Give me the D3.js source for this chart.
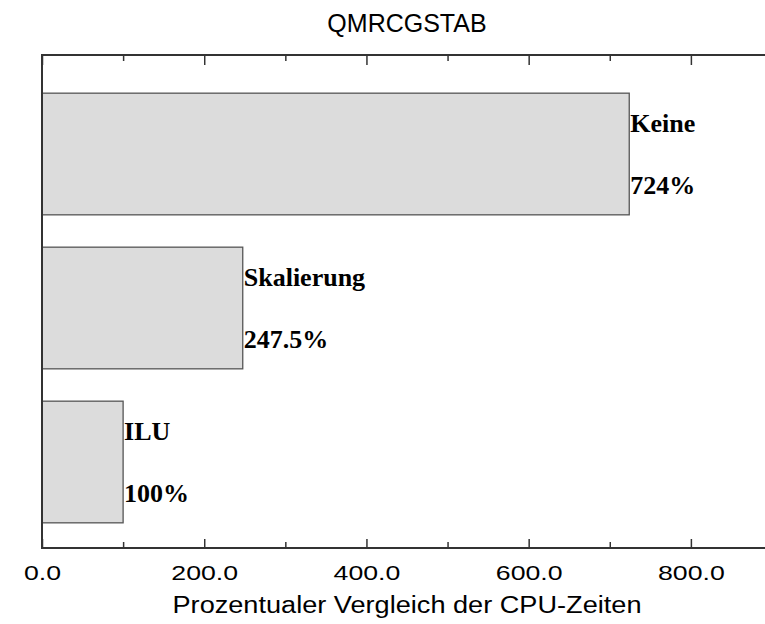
<!DOCTYPE html>
<html>
<head>
<meta charset="utf-8">
<script src="https://cdn.jsdelivr.net/npm/d3@7"></script>
<style>
  html, body { margin: 0; padding: 0; background: #fff; }
  svg { display: block; }
</style>
</head>
<body>
<div id="chart"></div>
<script>
// Preconditioner variants and their CPU time relative to ILU (= 100 %)
const categories = ["Keine", "Skalierung", "ILU"];
const values = [724, 247.5, 100];
const valueLabels = ["724%", "247.5%", "100%"];
const majorTicks = [0, 200, 400, 600, 800];
const minorTicks = [100, 300, 500, 700];

const chartTitle = "QMRCGSTAB";
const xTitle = "Prozentualer Vergleich der CPU-Zeiten";

const W = 765, H = 624;
const plot = { left: 42, right: 772, top: 55, bottom: 548 };

const svg = d3.select("#chart").append("svg")
  .attr("width", W).attr("height", H);

const x = d3.scaleLinear().domain([0, 900]).range([plot.left, plot.right]);
const y = d3.scaleBand().domain(categories).range([77, 539])
  .paddingInner(0.21).paddingOuter(0.105);

const sans = "'Liberation Sans', Arial, Helvetica, sans-serif";
const serif = "'Liberation Serif', 'Times New Roman', Times, serif";
const frameColor = "#333";

// Bars
svg.append("g").selectAll("rect")
  .data(categories)
  .join("rect")
  .attr("x", x(0))
  .attr("y", d => y(d))
  .attr("width", (d, i) => x(values[i]) - x(0))
  .attr("height", y.bandwidth())
  .attr("fill", "#dcdcdc")
  .attr("stroke", "#555")
  .attr("stroke-width", 1.3);

// Bar annotations: name and percentage to the right of each bar end
const ann = svg.append("g")
  .attr("font-family", serif)
  .attr("font-weight", "bold")
  .attr("font-size", 26)
  .attr("fill", "#000");

ann.selectAll("text.name")
  .data(categories)
  .join("text")
  .attr("class", "name")
  .attr("x", (d, i) => x(values[i]) + 1)
  .attr("y", d => y(d) + 39)
  .text(d => d);

ann.selectAll("text.val")
  .data(categories)
  .join("text")
  .attr("class", "val")
  .attr("x", (d, i) => x(values[i]) + 1)
  .attr("y", d => y(d) + 101)
  .text((d, i) => valueLabels[i]);

// Bottom axis: major ticks with labels, minor ticks without
const bottomMajor = d3.axisBottom(x).tickValues(majorTicks)
  .tickSize(-9).tickFormat(d3.format(".1f"));
const gB = svg.append("g").attr("transform", `translate(0,${plot.bottom})`).call(bottomMajor);
gB.select(".domain").remove();
gB.selectAll(".tick line").attr("stroke", frameColor).attr("stroke-width", 1.5);
gB.selectAll(".tick text")
  .attr("y", 32).attr("dy", null)
  .attr("font-family", sans).attr("font-size", 21).attr("fill", "#000")
  .attr("transform", "scale(1.27,1)");

const bottomMinor = d3.axisBottom(x).tickValues(minorTicks).tickSize(-6).tickFormat("");
const gBm = svg.append("g").attr("transform", `translate(0,${plot.bottom})`).call(bottomMinor);
gBm.select(".domain").remove();
gBm.selectAll(".tick line").attr("stroke", frameColor).attr("stroke-width", 1.5);

// Top axis: ticks pointing down, no labels
const topMajor = d3.axisTop(x).tickValues(majorTicks).tickSize(-10).tickFormat("");
const gT = svg.append("g").attr("transform", `translate(0,${plot.top})`).call(topMajor);
gT.select(".domain").remove();
gT.selectAll(".tick line").attr("stroke", frameColor).attr("stroke-width", 1.5);

const topMinor = d3.axisTop(x).tickValues(minorTicks).tickSize(-6).tickFormat("");
const gTm = svg.append("g").attr("transform", `translate(0,${plot.top})`).call(topMinor);
gTm.select(".domain").remove();
gTm.selectAll(".tick line").attr("stroke", frameColor).attr("stroke-width", 1.5);

// Frame
svg.append("path")
  .attr("d", `M${plot.right},${plot.top}H${plot.left}V${plot.bottom}H${plot.right}V${plot.top}`)
  .attr("fill", "none")
  .attr("stroke", frameColor)
  .attr("stroke-width", 2);

// Title
svg.append("text")
  .attr("x", (plot.left + plot.right) / 2)
  .attr("y", 32)
  .attr("text-anchor", "middle")
  .attr("font-family", sans)
  .attr("font-size", 25)
  .attr("fill", "#000")
  .text(chartTitle);

// X axis title
svg.append("text")
  .attr("x", (plot.left + plot.right) / 2)
  .attr("y", 613)
  .attr("text-anchor", "middle")
  .attr("font-family", sans)
  .attr("font-size", 23)
  .attr("textLength", 469)
  .attr("lengthAdjust", "spacingAndGlyphs")
  .attr("fill", "#000")
  .text(xTitle);
</script>
</body>
</html>
